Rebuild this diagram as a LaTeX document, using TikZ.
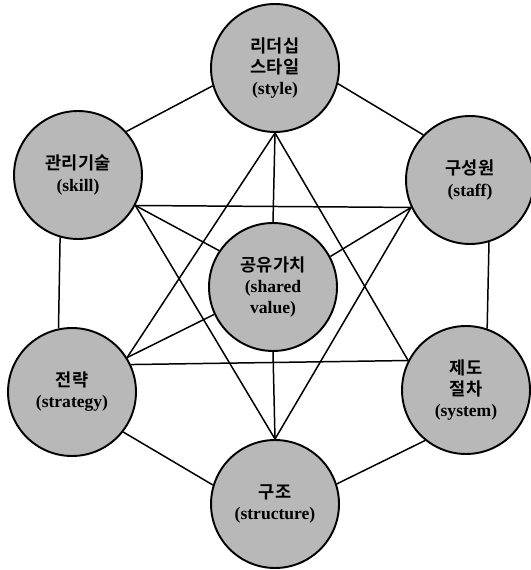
\documentclass[tikz,border=0pt]{standalone}
\usepackage{fontspec}
\setmainfont{Liberation Serif}
\newfontfamily\krfont{Noto Sans CJK KR}[BoldFont={Noto Sans CJK KR Bold}]
\definecolor{DotGray}{HTML}{B8B8B8}
\tikzset{
  snode/.style={circle,draw=black,fill=DotGray,line width=1.1pt,
    minimum size=2.56cm,inner sep=0pt,align=center,
    font=\fontsize{10}{12}\selectfont\bfseries},
  link/.style={line width=0.85pt,draw=black},
}
\newcommand{\kr}[1]{{\krfont\bfseries #1}}
\begin{document}
\begin{tikzpicture}[x=0.02cm,y=-0.02cm]
  \useasboundingbox (0,0) rectangle (530,570);
  \node[snode] (style)  at (275, 68) {\kr{리더십}\\\kr{스타일}\\(style)};
  \node[snode] (skill)  at ( 78,175) {\kr{관리기술}\\(skill)};
  \node[snode] (staff)  at (470,180) {\kr{구성원}\\(staff)};
  \node[snode] (shared) at (273,287) {\kr{공유가치}\\(shared\\value)};
  \node[snode] (strat)  at ( 72,392) {\kr{전략}\\(strategy)};
  \node[snode] (system) at (466,390) {\kr{제도}\\\kr{절차}\\(system)};
  \node[snode] (struct) at (275,504) {\kr{구조}\\(structure)};
  % outer ring
  \draw[link] (style.196) -- (skill.42);
  \draw[link] (style.-14) -- (staff.136);
  \draw[link] (skill.254) -- (strat.102);
  \draw[link] (staff.287) -- (system.71);
  \draw[link] (strat.-38) -- (struct.163);
  \draw[link] (system.231) -- (struct.18);
  % crossing lines
  \draw[link] (skill.-28) -- (staff.205);
  \draw[link] (strat.25) -- (system.153);
  \draw[link] (skill.-28) -- (shared.146);
  \draw[link] (skill.-28) -- (struct.north);
  \draw[link] (staff.205) -- (shared.28);
  \draw[link] (staff.205) -- (struct.north);
  \draw[link] (style.south) -- (strat.32);
  \draw[link] (style.south) -- (shared.north);
  \draw[link] (style.south) -- (system.153);
  \draw[link] (shared.205) -- (strat.32);
  \draw[link] (shared.south) -- (struct.north);
\end{tikzpicture}
\end{document}
